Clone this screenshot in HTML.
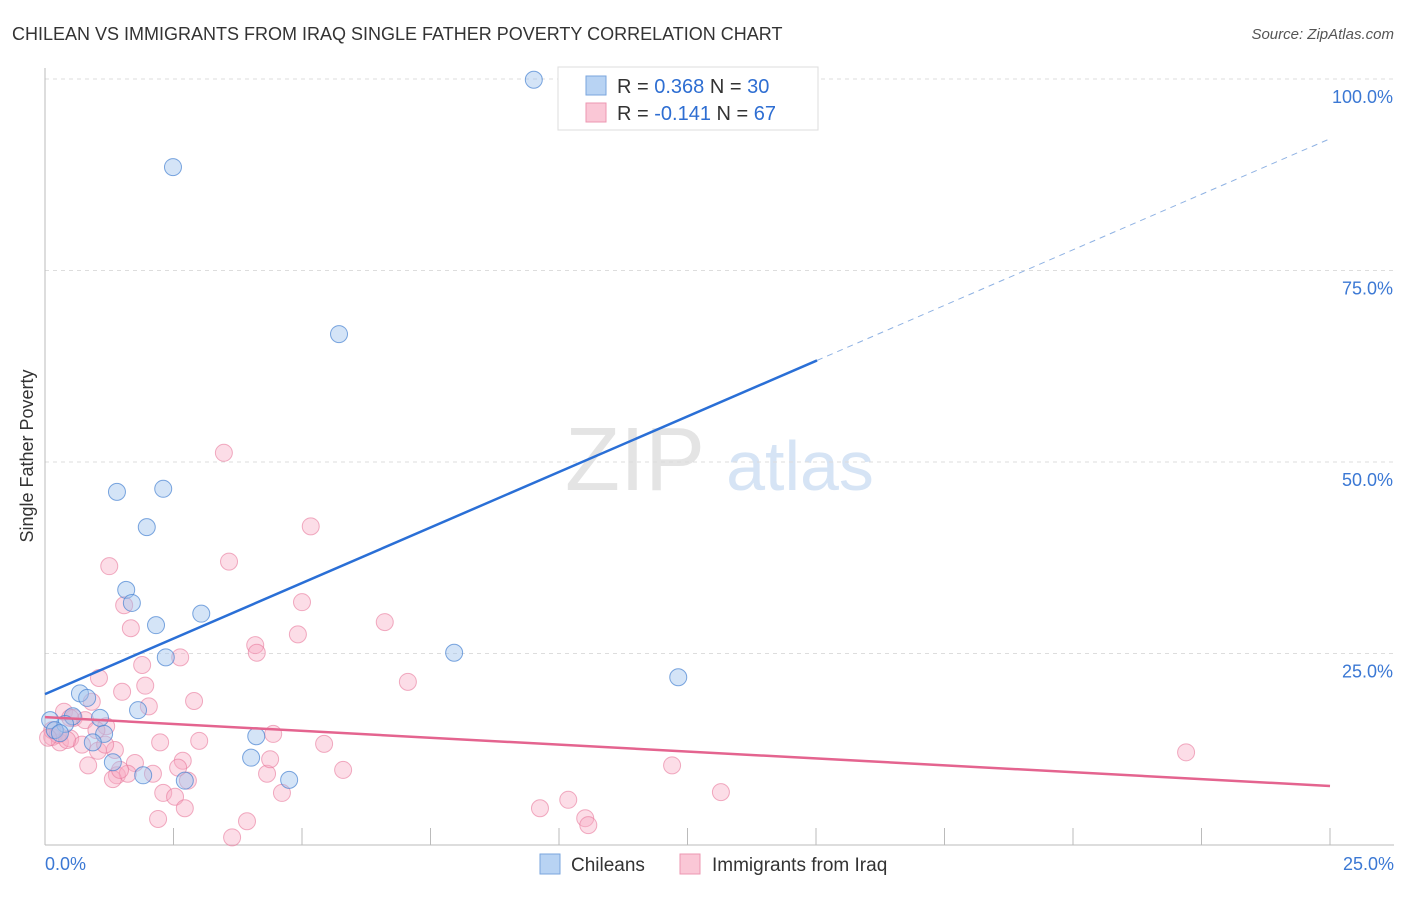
<!DOCTYPE html>
<html><head><meta charset="utf-8"><style>
body{margin:0;background:#fff;font-family:"Liberation Sans",sans-serif;}
svg text{font-family:"Liberation Sans",sans-serif;}
</style></head><body>
<svg id="chart" width="1406" height="892">
<text x="12" y="40" font-size="18" fill="#333">CHILEAN VS IMMIGRANTS FROM IRAQ SINGLE FATHER POVERTY CORRELATION CHART</text>
<text x="1394" y="39" font-size="15" fill="#555" font-style="italic" text-anchor="end">Source: ZipAtlas.com</text>
<text x="33" y="456" font-size="18" fill="#333" text-anchor="middle" transform="rotate(-90 33 456)">Single Father Poverty</text>
<g><text x="635" y="490" font-size="90" fill="#e4e4e4" text-anchor="middle" font-family="Liberation Serif">ZIP</text><text x="800" y="490" font-size="70" fill="#d6e4f5" text-anchor="middle">atlas</text></g>
<g id="grid"></g><g id="axes"></g><g id="pts"></g><g id="lines"></g>
<g>
<rect x="558" y="67" width="260" height="63" fill="#fff" stroke="#ddd"/>
<rect x="586" y="76" width="20" height="19" fill="#b8d3f3" stroke="#7aa6de"/>
<rect x="586" y="103" width="20" height="19" fill="#fac7d6" stroke="#ec97b2"/>
<text x="617" y="93" font-size="20" fill="#333">R = <tspan fill="#2e6ed2">0.368</tspan>   N = <tspan fill="#2e6ed2">30</tspan></text>
<text x="617" y="120" font-size="20" fill="#333">R = <tspan fill="#2e6ed2">-0.141</tspan>   N = <tspan fill="#2e6ed2">67</tspan></text>
</g>
<g>
<rect x="540" y="854" width="20" height="20" fill="#b8d3f3" stroke="#7aa6de"/>
<text x="571" y="871" font-size="19" fill="#333">Chileans</text>
<rect x="680" y="854" width="20" height="20" fill="#fac7d6" stroke="#ec97b2"/>
<text x="712" y="871" font-size="19" fill="#333">Immigrants from Iraq</text>
</g>
</svg>
<script>
const yTicks=[25,50,75,100];
const yTickLabels=["25.0%","50.0%","75.0%","100.0%"];
const xTickLabels=["0.0%","25.0%"];
const chileX=[9.51,2.49,5.72,1.40,2.30,1.98,1.58,1.69,2.16,3.04,7.96,12.32,2.35,0.68,0.82,1.81,1.07,0.54,0.39,0.10,0.19,0.29,1.15,0.93,4.11,1.32,4.01,1.91,2.72,4.75];
const chileY=[99.9,88.5,66.7,46.1,46.5,41.5,33.3,31.6,28.7,30.2,25.1,21.9,24.5,19.8,19.2,17.6,16.6,16.8,15.8,16.3,15.0,14.6,14.5,13.4,14.2,10.8,11.4,9.1,8.4,8.5];
const iraqX=[3.48,5.17,3.58,1.25,1.54,5.00,1.67,6.61,4.09,4.92,4.12,2.63,1.89,1.05,1.95,7.06,1.50,2.90,2.02,0.91,0.37,0.56,0.78,0.14,0.29,0.49,1.19,2.24,0.72,1.03,3.00,4.44,5.43,2.68,1.75,0.84,2.59,2.10,1.40,1.61,1.32,4.32,5.80,12.20,2.78,2.30,2.53,4.61,13.15,22.20,10.18,9.63,10.51,10.57,2.20,3.93,2.72,3.64,1.00,0.14,0.25,0.06,0.49,0.43,1.36,1.17,4.38,1.46];
const iraqY=[51.2,41.6,37.0,36.4,31.3,31.7,28.3,29.1,26.1,27.5,25.1,24.5,23.5,21.8,20.8,21.3,20.0,18.8,18.1,18.7,17.4,16.6,16.3,14.1,13.4,13.9,15.5,13.4,13.1,12.3,13.6,14.5,13.2,11.0,10.7,10.4,10.1,9.3,9.1,9.3,8.6,9.3,9.8,10.4,8.4,6.8,6.3,6.8,6.9,12.1,5.9,4.8,3.5,2.6,3.4,3.1,4.8,1.0,15.0,15.0,14.4,14.0,16.6,13.7,12.4,13.1,11.2,9.8];
const chileFit=[19.7,2.9];
const iraqFit=[16.7,-0.36];
const sx=v=>45+v/25*1285, sy=v=>845-v/100*766;
const NS="http://www.w3.org/2000/svg";
function mk(t,a,p){const e=document.createElementNS(NS,t);for(const k in a)e.setAttribute(k,a[k]);p.appendChild(e);return e;}
const grid=document.getElementById('grid'),axes=document.getElementById('axes'),pts=document.getElementById('pts'),lines=document.getElementById('lines');
yTicks.forEach((t,i)=>{const l=mk('line',{x1:45,x2:1394,y1:sy(t),y2:sy(t),stroke:'#ddd','stroke-dasharray':'4,4'},grid);


const tx=mk('text',{x:1393,y:sy(t)+24,'font-size':18,fill:'#3b78d4','text-anchor':'end'},axes);tx.textContent=yTickLabels[i];

});
let a=mk('line',{x1:45,x2:45,y1:68,y2:845,stroke:'#bbb'},axes);


a=mk('line',{x1:45,x2:1394,y1:845,y2:845,stroke:'#bbb'},axes);


for(let i=1;i<=10;i++){const x=sx(i*2.5);const t=mk('line',{x1:x,x2:x,y1:828,y2:845,stroke:'#bbb'},axes);

}
[[0,'start',45],[25,'end',1394]].forEach((d,i)=>{const t=mk('text',{x:d[2],y:870,'font-size':18,fill:'#3b78d4','text-anchor':d[1]},axes);t.textContent=xTickLabels[i];

});
iraqX.forEach((x,i)=>{const c=mk('circle',{cx:sx(x),cy:sy(iraqY[i]),r:8.5,fill:'rgba(248,170,195,0.4)',stroke:'rgba(232,120,155,0.6)'},pts);

});
chileX.forEach((x,i)=>{const c=mk('circle',{cx:sx(x),cy:sy(chileY[i]),r:8.5,fill:'rgba(160,196,238,0.45)',stroke:'rgba(70,130,210,0.7)'},pts);

});
let l=mk('line',{x1:sx(0),y1:sy(chileFit[0]),x2:sx(15.02),y2:sy(chileFit[0]+chileFit[1]*15.02),stroke:'#2a6fd6','stroke-width':2.5},lines);


l=mk('line',{x1:sx(15.02),y1:sy(chileFit[0]+chileFit[1]*15.02),x2:sx(25),y2:sy(chileFit[0]+chileFit[1]*25),stroke:'#8fb2e3','stroke-width':1,'stroke-dasharray':'6,5'},lines);


l=mk('line',{x1:sx(0),y1:sy(iraqFit[0]),x2:sx(25),y2:sy(iraqFit[0]+iraqFit[1]*25),stroke:'#e4648f','stroke-width':2.5},lines);


</script>
</body></html>
